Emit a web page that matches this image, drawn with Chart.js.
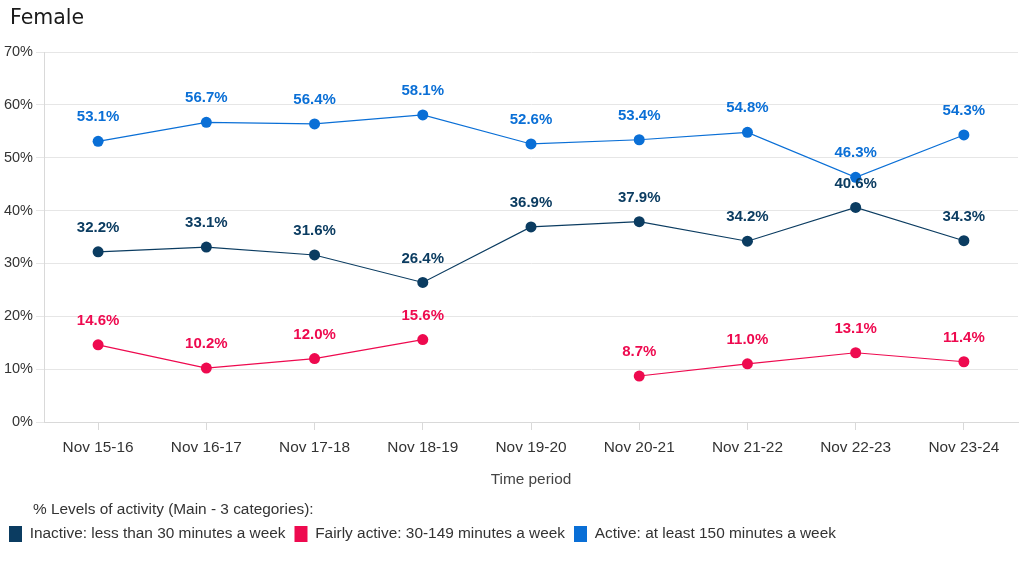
<!DOCTYPE html>
<html>
<head>
<meta charset="utf-8">
<script src="https://cdn.jsdelivr.net/npm/chart.js@4.4.1/dist/chart.umd.min.js"></script>
<style>
html,body{margin:0;padding:0;background:#fff;}
#wrap{width:1024px;height:562px;position:relative;}
</style>
</head>
<body>
<div id="wrap"><canvas id="c"></canvas></div>
<script>
const categories = ["Nov 15-16","Nov 16-17","Nov 17-18","Nov 18-19","Nov 19-20","Nov 20-21","Nov 21-22","Nov 22-23","Nov 23-24"];
const inactive = [32.2, 33.1, 31.6, 26.4, 36.9, 37.9, 34.2, 40.6, 34.3];
const fairlyActive = [14.6, 10.2, 12.0, 15.6, null, 8.7, 11.0, 13.1, 11.4];
const active = [53.1, 56.7, 56.4, 58.1, 52.6, 53.4, 54.8, 46.3, 54.3];
const seriesNames = ["Inactive: less than 30 minutes a week","Fairly active: 30-149 minutes a week","Active: at least 150 minutes a week"];
const seriesColors = ["#0b3c61","#ee0a4f","#0a6fd6"];
const chartTitle = "Female";
const legendTitle = "% Levels of activity (Main - 3 categories):";
const xTitle = "Time period";

const FONT = "'Liberation Sans', Arial, sans-serif";
const FS = 15.4;

const labelPlugin = {
  id: 'pointLabels',
  afterDatasetsDraw(chart) {
    const ctx = chart.ctx;
    ctx.save();
    ctx.font = "bold 15px " + FONT;
    ctx.textAlign = 'center';
    ctx.textBaseline = 'middle';
    chart.data.datasets.forEach((ds, i) => {
      const meta = chart.getDatasetMeta(i);
      meta.data.forEach((pt, j) => {
        const v = ds.data[j];
        if (v === null || v === undefined) return;
        ctx.fillStyle = ds.borderColor;
        ctx.fillText(v.toFixed(1) + '%', pt.x, pt.y - 24);
      });
    });
    ctx.restore();
  }
};

const textPlugin = {
  id: 'extraTexts',
  afterDraw(chart) {
    const ctx = chart.ctx;
    ctx.save();
    ctx.textAlign = 'left';
    ctx.textBaseline = 'middle';
    ctx.fillStyle = '#1a1a1a';
    ctx.font = "20.5px 'DejaVu Sans', sans-serif";
    ctx.fillText(chartTitle, 10, 19);
    ctx.fillStyle = '#333';
    ctx.font = FS + "px " + FONT;
    ctx.fillText(legendTitle, 33, 510);
    ctx.restore();
  }
};

const mk = (i, data) => ({
  label: seriesNames[i],
  data: data,
  borderColor: seriesColors[i],
  backgroundColor: seriesColors[i],
  borderWidth: 1.2,
  pointRadius: 5.5,
  pointHoverRadius: 5.5,
  pointBackgroundColor: seriesColors[i],
  pointBorderWidth: 0,
  spanGaps: false,
  tension: 0
});

new Chart(document.getElementById('c'), {
  type: 'line',
  data: {
    labels: categories,
    datasets: [mk(0, inactive), mk(1, fairlyActive), mk(2, active)]
  },
  options: {
    responsive: true,
    maintainAspectRatio: false,
    animation: false,
    layout: { padding: { left: 0, right: 6, top: 52, bottom: 10 } },
    plugins: {
      tooltip: { enabled: false },
      title: { display: false },
      legend: {
        display: true,
        position: 'bottom',
        align: 'start',
        labels: {
          boxWidth: 13,
          boxHeight: 16,
          padding: 9,
          color: '#333',
          font: { family: FONT, size: FS },
          generateLabels(chart) {
            return chart.data.datasets.map((ds, i) => ({
              text: ds.label,
              fillStyle: ds.borderColor,
              strokeStyle: ds.borderColor,
              lineWidth: 0,
              hidden: false,
              datasetIndex: i,
              fontColor: '#333'
            }));
          }
        }
      }
    },
    scales: {
      x: {
        offset: true,
        grid: { display: true, drawOnChartArea: false, drawTicks: true, tickLength: 8, color: '#d9d9d9' },
        border: { display: true, color: '#d9d9d9' },
        ticks: { color: '#333', font: { family: FONT, size: FS }, padding: 9, maxRotation: 0 },
        title: { display: true, text: xTitle, color: '#444', font: { family: FONT, size: FS }, padding: { top: 10, bottom: 28 } },
        afterFit(scale) { scale.height = 95; }
      },
      y: {
        min: 0, max: 70,
        ticks: { stepSize: 10, color: '#333', font: { family: FONT, size: 14.5 }, padding: 3, callback: v => v + '%' },
        grid: { color: '#e6e6e6', tickLength: 8 },
        border: { display: true, color: '#d9d9d9' },
        afterFit(scale) { scale.width = 44; }
      }
    }
  },
  plugins: [labelPlugin, textPlugin]
});
</script>
</body>
</html>
